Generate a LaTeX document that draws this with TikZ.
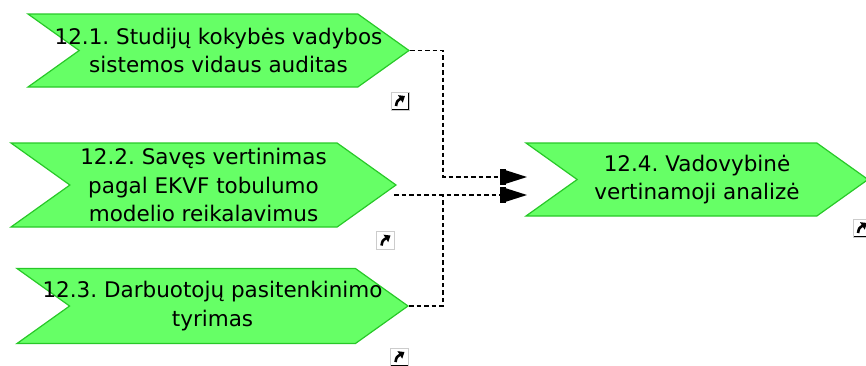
\documentclass[tikz,border=0pt]{standalone}
\usepackage{fontspec}
\setmainfont{DejaVu Sans}
\usetikzlibrary{shapes.symbols,arrows.meta}
\definecolor{procfill}{RGB}{102,255,102}
\definecolor{procline}{RGB}{40,200,40}
\newcommand{\ctrline}[1]{\makebox[0pt]{#1}}
\tikzset{
  proc/.style={signal, signal from=west, signal to=east, signal pointer angle=71,
    fill=procfill, draw=procline, line width=1.2pt, align=center, inner sep=0pt,
    font=\fontsize{21.5}{28.5}\selectfont\frenchspacing, text=black},
  conn/.style={draw=black, line width=1.4pt, dash pattern=on 4.5pt off 3pt,
    -{Rectangle[length=6pt,width=16pt]Triangle[length=21pt,width=13pt]}},
  plainconn/.style={draw=black, line width=1.4pt, dash pattern=on 4.5pt off 3pt},
  icon/.style={minimum size=18pt, inner sep=0pt, fill=white, draw=gray!40, line width=0.8pt,
    path picture={
      \draw[black, line width=1.8pt] (path picture bounding box.south west) -- (path picture bounding box.south east) -- (path picture bounding box.north east);
      \draw[black, line width=2.6pt, -{Triangle[length=5.5pt,width=8.5pt]}]
        ([shift={(5pt,4pt)}]path picture bounding box.south west) .. controls ([shift={(6pt,9pt)}]path picture bounding box.south west) .. ([shift={(-4pt,-4pt)}]path picture bounding box.north east);
    }}
}
\begin{document}
\begin{tikzpicture}[x=1pt,y=-1pt]
\useasboundingbox (0,0) rectangle (866,365);
\node[proc, minimum width=381pt, minimum height=73pt] (s1) at (218.5,50.5) {\ctrline{12.1. Studijų kokybės vadybos}\\\ctrline{sistemos vidaus auditas}};
\node[proc, minimum width=385pt, minimum height=84pt] (s2) at (203.5,185) {\ctrline{12.2. Savęs vertinimas}\\\ctrline{pagal EKVF tobulumo}\\\ctrline{modelio reikalavimus}};
\node[proc, minimum width=391pt, minimum height=75pt] (s3) at (212.5,306) {\ctrline{12.3. Darbuotojų pasitenkinimo}\\\ctrline{tyrimas}};
\node[proc, minimum width=342pt, minimum height=73pt] (s4) at (697,179.5) {\ctrline{12.4. Vadovybinė}\\\ctrline{vertinamoji analizė}};

\node[icon] (i1) at (400,101) {};
\node[icon] (i2) at (385.5,240.5) {};
\node[icon] (i3) at (399.5,357) {};
\node[icon] (i4) at (862,228) {};

\coordinate (j) at (443,0);
\coordinate (e1) at (527,177);
\coordinate (e2) at (527,195);
\coordinate (o2) at (394,195);

\draw[conn] (s1.east) -| (j |- e1) -- (e1);
\draw[plainconn] (s3.east) -| (j |- e2);
\draw[conn] (o2) -- (e2);
\end{tikzpicture}
\end{document}
